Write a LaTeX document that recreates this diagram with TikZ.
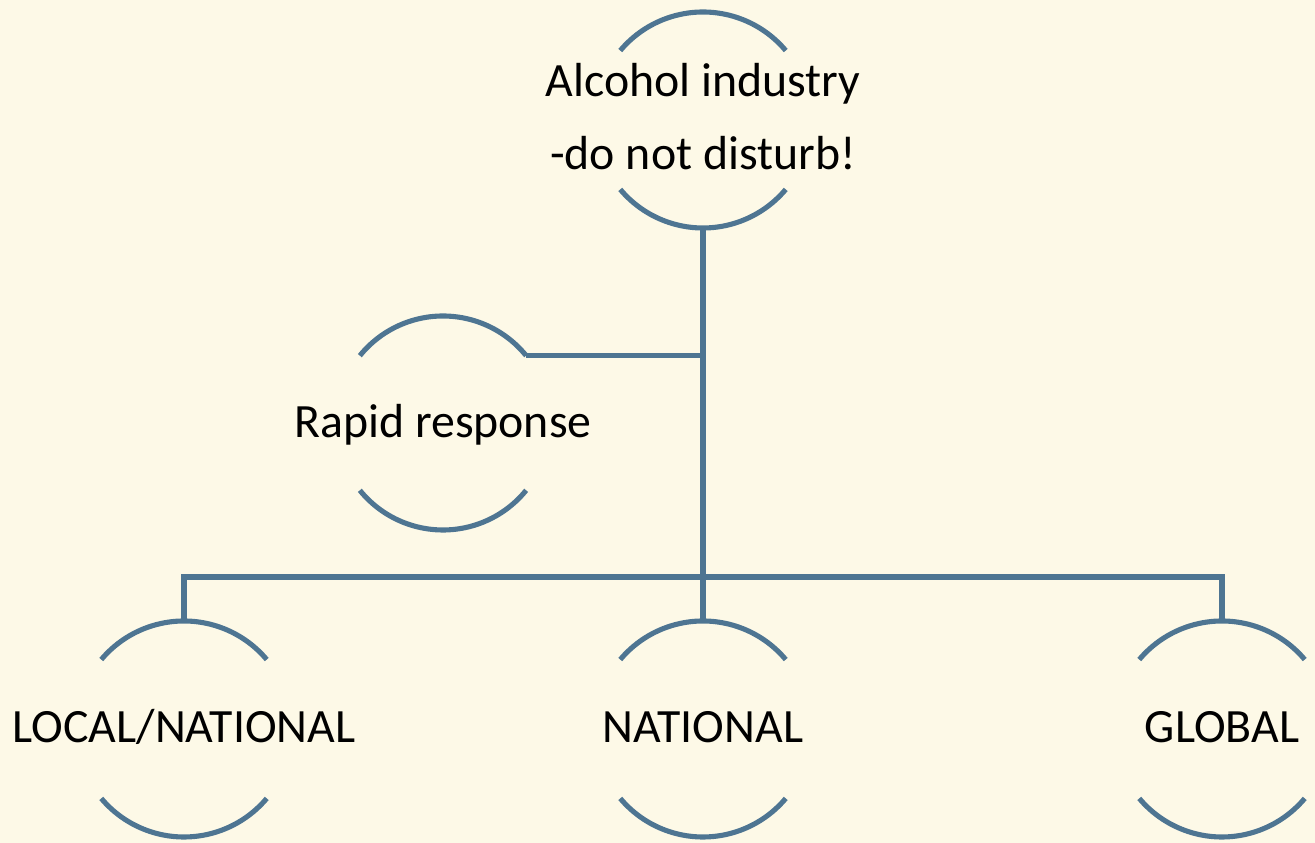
\documentclass[tikz,border=0pt]{standalone}
\usepackage{fontspec}
\setmainfont{Carlito}
\usetikzlibrary{calc}
\definecolor{bg}{HTML}{FDF9E7}
\definecolor{ln}{HTML}{4E7592}
\tikzset{
  arcline/.style={draw=ln, line width=1.45pt},
  conn/.style={draw=ln, line width=1.45pt},
  lbl/.style={font=\fontsize{13.6}{20.8}\selectfont, text=black, inner sep=0pt, align=center},
}
\begin{document}
\begin{tikzpicture}
\fill[bg] (0,0) rectangle (13.15,8.43);
\useasboundingbox (0,0) rectangle (13.15,8.43);
% circle centres
\coordinate (cTop) at (7.03,7.23);
\coordinate (cRR) at (4.43,4.20);
\coordinate (cLN) at (1.84,1.14);
\coordinate (cNA) at (7.03,1.14);
\coordinate (cGL) at (12.22,1.14);
% labels
\node[lbl] (top) at (7.03,7.26) {Alcohol industry\\-do not disturb!};
\node[lbl, anchor=base] (rr) at (4.43,4.05) {Rapid response};
\node[lbl, anchor=base] (ln) at (1.84,1.00) {LOCAL/NATIONAL};
\node[lbl, anchor=base] (na) at (7.03,1.00) {NATIONAL};
\node[lbl, anchor=base] (gl) at (12.22,1.00) {GLOBAL};
% arcs
\foreach \c/\r/\a in {cTop/1.08/40, cRR/1.07/39, cLN/1.08/40, cNA/1.08/40, cGL/1.08/40}{
  \draw[arcline] ($(\c)+(\a:\r)$) arc[start angle=\a, end angle=180-\a, radius=\r];
  \draw[arcline] ($(\c)+(180+\a:\r)$) arc[start angle=180+\a, end angle=360-\a, radius=\r];
}
% connector anchor points
\coordinate (topS) at ($(cTop)+(0,-1.08)$);
\coordinate (rrE) at ($(cRR)+(39:1.07)$);
\coordinate (lnN) at ($(cLN)+(0,1.08)$);
\coordinate (naN) at ($(cNA)+(0,1.08)$);
\coordinate (glN) at ($(cGL)+(0,1.08)$);
\coordinate (bus) at (7.03,2.66);
% connectors
\draw[conn] (topS) -- (naN);
\draw[conn] (rrE) -- (rrE -| topS);
\draw[conn] (lnN) -- (lnN |- bus) -- (glN |- bus) -- (glN);
\end{tikzpicture}
\end{document}
